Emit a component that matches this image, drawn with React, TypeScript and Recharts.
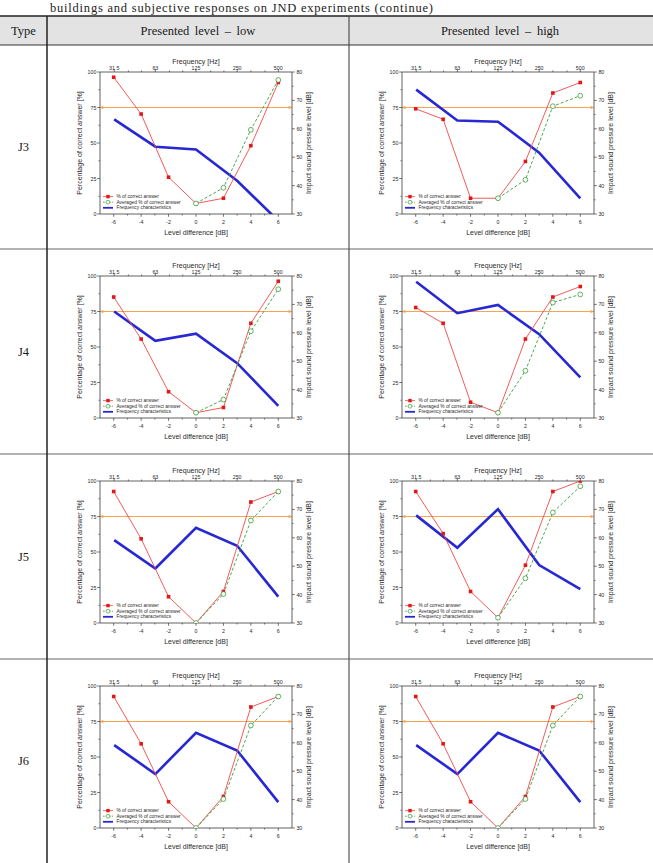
import React from 'react';
import { LineChart, Line, XAxis, YAxis, ReferenceLine, Legend } from 'recharts';

// ---- shared axis values ----
const levelDiffs = [-6, -4, -2, 0, 2, 4, 6];
const octaveBands = [31.5, 63, 125, 250, 500];
const levelTicks = [-6, -5, -4, -3, -2, -1, 0, 1, 2, 3, 4, 5, 6];
const freqTicks = [31.5, 40, 50, 63, 80, 100, 125, 160, 200, 250, 315, 400, 500];
const pctTicks = [0, 12.5, 25, 37.5, 50, 62.5, 75, 87.5, 100];
const pctLabels = [0, 25, 50, 75, 100];
const splTicks = [30, 35, 40, 45, 50, 55, 60, 65, 70, 75, 80];
const splLabels = [30, 40, 50, 60, 70, 80];
const thresholdPct = 75;

// ---- J3 ----
const j3LowCorrect = [96.3, 70.4, 25.9, 7.4, 11.1, 48.1, 92.6];
const j3LowAveraged = [null, null, null, 7.4, 18.5, 59.3, 94.4];
const j3LowSpl = [63.3, 53.7, 52.7, 41.7, 27.6];

const j3HighCorrect = [74.1, 66.7, 11.1, 11.1, 37.0, 85.2, 92.6];
const j3HighAveraged = [null, null, null, 11.1, 24.1, 75.9, 83.3];
const j3HighSpl = [73.8, 62.9, 62.5, 51.6, 35.5];

// ---- J4 ----
const j4LowCorrect = [85.2, 55.6, 18.5, 3.7, 7.4, 66.7, 96.3];
const j4LowAveraged = [null, null, null, 3.7, 13.0, 61.1, 90.7];
const j4LowSpl = [67.5, 57.2, 59.7, 49.3, 34.3];

const j4HighCorrect = [77.8, 66.7, 11.1, 3.7, 55.6, 85.2, 92.6];
const j4HighAveraged = [null, null, null, 3.7, 33.3, 81.3, 87.0];
const j4HighSpl = [78.0, 66.9, 69.8, 59.5, 44.3];

// ---- J5 ----
const j5LowCorrect = [92.6, 59.3, 18.5, 0, 22.2, 85.2, 92.6];
const j5LowAveraged = [null, null, null, 0, 20.4, 72.2, 92.6];
const j5LowSpl = [59.2, 49.2, 63.5, 57.2, 39.3];

const j5HighCorrect = [92.6, 63.0, 22.2, 3.7, 40.7, 92.6, 100];
const j5HighAveraged = [null, null, null, 3.7, 31.5, 77.8, 96.3];
const j5HighSpl = [67.9, 56.5, 70.1, 50.4, 41.9];

// ---- J6 ----
const j6LowCorrect = [92.6, 59.3, 18.5, 0, 22.2, 85.2, 92.6];
const j6LowAveraged = [null, null, null, 0, 20.4, 72.2, 92.6];
const j6LowSpl = [59.2, 49.0, 63.5, 57.3, 39.1];

const j6HighCorrect = [92.6, 59.3, 18.5, 0, 22.2, 85.2, 92.6];
const j6HighAveraged = [null, null, null, 0, 20.4, 72.2, 92.6];
const j6HighSpl = [59.2, 49.0, 63.5, 57.3, 39.1];

const rowLabels = ['J3', 'J4', 'J5', 'J6'];
const columnTitles = ['Presented level \u2013 low', 'Presented level \u2013 high'];

const panels = [
  [
    { correct: j3LowCorrect, averaged: j3LowAveraged, spl: j3LowSpl },
    { correct: j3HighCorrect, averaged: j3HighAveraged, spl: j3HighSpl },
  ],
  [
    { correct: j4LowCorrect, averaged: j4LowAveraged, spl: j4LowSpl },
    { correct: j4HighCorrect, averaged: j4HighAveraged, spl: j4HighSpl },
  ],
  [
    { correct: j5LowCorrect, averaged: j5LowAveraged, spl: j5LowSpl },
    { correct: j5HighCorrect, averaged: j5HighAveraged, spl: j5HighSpl },
  ],
  [
    { correct: j6LowCorrect, averaged: j6LowAveraged, spl: j6LowSpl },
    { correct: j6HighCorrect, averaged: j6HighAveraged, spl: j6HighSpl },
  ],
];

// ---- layout ----
const PAGE_W = 653;
const PAGE_H = 863;
const TABLE_TOP = 16;
const HEADER_BOTTOM = 45;
const TYPE_COL_X = 47;
const MID_COL_X = 349;
const ROW_TOPS = [45, 249, 454, 659];
const ROW_BOTTOM_LAST = 863;

const PLOT_W = 192;
const PLOT_H = 142;
const AX_L = 40;
const AX_R = 40;
const AX_T = 25;
const AX_B = 35;
const CHART_W = AX_L + PLOT_W + AX_R;
const CHART_H = AX_T + PLOT_H + AX_B;
const PLOT_LEFTS = [100, 402];
const PLOT_TOP_IN_ROW = 27;

const FREQ_LO = 125 / Math.pow(2, 7 / 3);
const FREQ_HI = 125 * Math.pow(2, 7 / 3);

const SANS = '"Liberation Sans", Arial, sans-serif';
const SERIF = '"Liberation Serif", "Times New Roman", serif';
const AXIS_COLOR = '#3a3a3a';
const TEXT_COLOR = '#2a2a2a';
const TICK_FONT = 5.3;
const TITLE_FONT = 7;

const RED_LINE = '#f04848';
const RED_MARK = '#e01818';
const GREEN = '#3a9e3a';
const BLUE = '#2727d4';
const ORANGE = '#f7a451';

const seriesNames = {
  correct: '% of correct answer',
  averaged: 'Averaged % of correct answer',
  spl: 'Frequency characteristics',
};

type Side = 'top' | 'bottom' | 'left' | 'right';

function makeTick(side: Side, labelled: number[]) {
  return (props: any) => {
    const { x, y, payload } = props;
    const v = payload.value;
    const major = labelled.includes(v);
    const len = major ? 2.8 : 1.5;
    let x2 = x;
    let y2 = y;
    let tx = x;
    let ty = y;
    let anchor = 'middle';
    if (side === 'bottom') {
      y2 = y + len;
      ty = y + 8;
    } else if (side === 'top') {
      y2 = y - len;
      ty = y - 4.5;
    } else if (side === 'left') {
      x2 = x - len;
      tx = x - 3.6;
      anchor = 'end';
    } else {
      x2 = x + len;
      tx = x + 4.4;
      anchor = 'start';
    }
    return (
      <g>
        <line x1={x} y1={y} x2={x2} y2={y2} stroke={AXIS_COLOR} strokeWidth={0.7} />
        {major && (
          <text
            x={tx}
            y={ty}
            textAnchor={anchor}
            dominantBaseline="central"
            fontSize={TICK_FONT}
            fontFamily={SANS}
            fill={TEXT_COLOR}
          >
            {String(v)}
          </text>
        )}
      </g>
    );
  };
}

const AxisTitle = (props: any) => {
  const { viewBox, side, text } = props;
  const vb = viewBox || { x: 0, y: 0, width: 0, height: 0 };
  let x = vb.x + vb.width / 2;
  let y = vb.y + vb.height / 2;
  let rotate = 0;
  if (side === 'bottom') {
    y = vb.y + 18;
  } else if (side === 'top') {
    y = vb.y + vb.height - 10.5;
  } else if (side === 'left') {
    x = vb.x + vb.width - 21;
    rotate = -90;
  } else {
    x = vb.x + 16;
    rotate = -90;
  }
  return (
    <text
      x={x}
      y={y}
      textAnchor="middle"
      dominantBaseline="central"
      fontSize={TITLE_FONT}
      fontFamily={SANS}
      fill={TEXT_COLOR}
      transform={rotate ? `rotate(${rotate} ${x} ${y})` : undefined}
    >
      {text}
    </text>
  );
};

const SquareDot = (props: any) => {
  const { cx, cy, index } = props;
  if (typeof cx !== 'number' || typeof cy !== 'number') return <g key={`sq-${index}`} />;
  return <rect key={`sq-${index}`} x={cx - 1.8} y={cy - 1.8} width={3.6} height={3.6} fill={RED_MARK} />;
};

const ThresholdLine = (props: any) => {
  const { x1, y1, x2, y2 } = props;
  if ([x1, y1, x2, y2].some((n) => typeof n !== 'number')) return <g />;
  return (
    <g>
      <line x1={x1} y1={y1} x2={x2} y2={y2} stroke={ORANGE} strokeWidth={1} />
      <path d={`M${x1 + 3.4},${y1 - 1.7} L${x1},${y1} L${x1 + 3.4},${y1 + 1.7} Z`} fill={ORANGE} />
      <path d={`M${x2 - 3.4},${y2 - 1.7} L${x2},${y2} L${x2 - 3.4},${y2 + 1.7} Z`} fill={ORANGE} />
    </g>
  );
};

const legendOrder = [seriesNames.correct, seriesNames.averaged, seriesNames.spl];

const PanelLegend = (props: any) => {
  const payload: any[] = props.payload || [];
  const present = legendOrder.filter((n) => payload.length === 0 || payload.some((p) => p.value === n));
  return (
    <svg width={82} height={20} style={{ display: 'block', overflow: 'visible' }}>
      {present.map((name, i) => {
        const cy = 3.6 + i * 5.6;
        let symbol;
        if (name === seriesNames.correct) {
          symbol = (
            <g>
              <line x1={1} y1={cy} x2={11} y2={cy} stroke={RED_LINE} strokeWidth={0.8} />
              <rect x={4.3} y={cy - 1.7} width={3.4} height={3.4} fill={RED_MARK} />
            </g>
          );
        } else if (name === seriesNames.averaged) {
          symbol = (
            <g>
              <line x1={1} y1={cy} x2={11} y2={cy} stroke={GREEN} strokeWidth={0.8} strokeDasharray="1.8 1.2" />
              <circle cx={6} cy={cy} r={1.9} fill="#fff" stroke={GREEN} strokeWidth={0.7} />
            </g>
          );
        } else {
          symbol = <line x1={1} y1={cy} x2={11} y2={cy} stroke={BLUE} strokeWidth={1.8} />;
        }
        return (
          <g key={name}>
            {symbol}
            <text x={14.5} y={cy} dominantBaseline="central" fontSize={4.8} fontFamily={SANS} fill={TEXT_COLOR}>
              {name}
            </text>
          </g>
        );
      })}
    </svg>
  );
};

type PanelProps = {
  correct: number[];
  averaged: (number | null)[];
  spl: number[];
};

function JndPanel({ correct, averaged, spl }: PanelProps) {
  const responseData = levelDiffs.map((lv, i) => ({
    level: lv,
    correct: correct[i],
    averaged: averaged[i],
  }));
  const spectrumData = octaveBands.map((f, i) => ({ freq: f, spl: spl[i] }));
  const axisLine = { stroke: AXIS_COLOR, strokeWidth: 0.8 };

  return (
    <LineChart width={CHART_W} height={CHART_H} margin={{ top: 0, right: 0, bottom: 0, left: 0 }}>
      <XAxis
        xAxisId="lvl"
        dataKey="level"
        type="number"
        orientation="bottom"
        domain={[-7, 7]}
        allowDataOverflow
        ticks={levelTicks}
        interval={0}
        height={AX_B}
        tickSize={0}
        tickMargin={0}
        tickLine={false}
        axisLine={axisLine}
        tick={makeTick('bottom', levelDiffs)}
        label={<AxisTitle side="bottom" text="Level difference [dB]" />}
      />
      <XAxis
        xAxisId="freq"
        dataKey="freq"
        type="number"
        scale="log"
        orientation="top"
        domain={[FREQ_LO, FREQ_HI]}
        allowDataOverflow
        ticks={freqTicks}
        interval={0}
        height={AX_T}
        tickSize={0}
        tickMargin={0}
        tickLine={false}
        axisLine={axisLine}
        tick={makeTick('top', octaveBands)}
        label={<AxisTitle side="top" text="Frequency [Hz]" />}
      />
      <YAxis
        yAxisId="pct"
        orientation="left"
        type="number"
        domain={[0, 100]}
        allowDataOverflow
        ticks={pctTicks}
        interval={0}
        width={AX_L}
        tickSize={0}
        tickMargin={0}
        tickLine={false}
        axisLine={axisLine}
        tick={makeTick('left', pctLabels)}
        label={<AxisTitle side="left" text="Percentage of correct answer [%]" />}
      />
      <YAxis
        yAxisId="spl"
        orientation="right"
        type="number"
        domain={[30, 80]}
        allowDataOverflow
        ticks={splTicks}
        interval={0}
        width={AX_R}
        tickSize={0}
        tickMargin={0}
        tickLine={false}
        axisLine={axisLine}
        tick={makeTick('right', splLabels)}
        label={<AxisTitle side="right" text="Impact sound pressure level [dB]" />}
      />
      <ReferenceLine xAxisId="lvl" yAxisId="pct" y={thresholdPct} stroke={ORANGE} shape={ThresholdLine} />
      <Line
        data={spectrumData}
        xAxisId="freq"
        yAxisId="spl"
        dataKey="spl"
        name={seriesNames.spl}
        stroke={BLUE}
        strokeWidth={2.6}
        dot={false}
        activeDot={false}
        isAnimationActive={false}
      />
      <Line
        data={responseData}
        xAxisId="lvl"
        yAxisId="pct"
        dataKey="correct"
        name={seriesNames.correct}
        stroke={RED_LINE}
        strokeWidth={0.9}
        dot={SquareDot}
        activeDot={false}
        isAnimationActive={false}
      />
      <Line
        data={responseData}
        xAxisId="lvl"
        yAxisId="pct"
        dataKey="averaged"
        name={seriesNames.averaged}
        stroke={GREEN}
        strokeWidth={0.9}
        strokeDasharray="3 2"
        dot={{ r: 2.4, fill: '#fff', stroke: GREEN, strokeWidth: 0.8, strokeDasharray: 'none' }}
        activeDot={false}
        isAnimationActive={false}
      />
      <Legend
        layout="vertical"
        align="center"
        verticalAlign="middle"
        content={<PanelLegend />}
        wrapperStyle={{
          left: AX_L + 2,
          top: AX_T + PLOT_H - 21,
          right: 'auto',
          bottom: 'auto',
          width: 82,
          height: 20,
        }}
      />
    </LineChart>
  );
}

function TableFrame() {
  const rowCenters = ROW_TOPS.map((t, i) => (t + (i + 1 < ROW_TOPS.length ? ROW_TOPS[i + 1] : ROW_BOTTOM_LAST)) / 2);
  return (
    <svg width={PAGE_W} height={PAGE_H} style={{ position: 'absolute', left: 0, top: 0 }}>
      <text
        x={50}
        y={12}
        fontSize={12.5}
        fontFamily={SERIF}
        fill="#222"
        textLength={383}
        lengthAdjust="spacing"
      >
        buildings and subjective responses on JND experiments (continue)
      </text>
      <rect x={0} y={TABLE_TOP} width={PAGE_W} height={HEADER_BOTTOM - TABLE_TOP} fill="#e3e3e3" />
      <line x1={0} y1={TABLE_TOP} x2={PAGE_W} y2={TABLE_TOP} stroke="#222" strokeWidth={1.6} />
      <line x1={0} y1={HEADER_BOTTOM} x2={PAGE_W} y2={HEADER_BOTTOM} stroke="#333" strokeWidth={1.1} />
      {ROW_TOPS.slice(1).map((y) => (
        <line key={y} x1={0} y1={y} x2={PAGE_W} y2={y} stroke="#666" strokeWidth={1.1} />
      ))}
      <line x1={TYPE_COL_X} y1={TABLE_TOP} x2={TYPE_COL_X} y2={PAGE_H} stroke="#222" strokeWidth={1.5} />
      <line x1={MID_COL_X} y1={TABLE_TOP} x2={MID_COL_X} y2={PAGE_H} stroke="#444" strokeWidth={1.1} />
      <text
        x={TYPE_COL_X / 2}
        y={(TABLE_TOP + HEADER_BOTTOM) / 2}
        textAnchor="middle"
        dominantBaseline="central"
        fontSize={12.5}
        fontFamily={SERIF}
        fill="#1a1a1a"
      >
        Type
      </text>
      {columnTitles.map((t, i) => (
        <text
          key={t}
          x={i === 0 ? (TYPE_COL_X + MID_COL_X) / 2 : MID_COL_X + (MID_COL_X - TYPE_COL_X) / 2}
          y={(TABLE_TOP + HEADER_BOTTOM) / 2}
          textAnchor="middle"
          dominantBaseline="central"
          fontSize={12.5}
          fontFamily={SERIF}
          fill="#1a1a1a"
          wordSpacing={2.5}
        >
          {t}
        </text>
      ))}
      {rowLabels.map((lab, i) => (
        <text
          key={lab}
          x={TYPE_COL_X / 2}
          y={rowCenters[i]}
          textAnchor="middle"
          dominantBaseline="central"
          fontSize={12.5}
          fontFamily={SERIF}
          fill="#1a1a1a"
        >
          {lab}
        </text>
      ))}
    </svg>
  );
}

export default function App() {
  return (
    <div
      style={{
        position: 'absolute',
        left: 0,
        top: 0,
        width: PAGE_W,
        height: PAGE_H,
        overflow: 'hidden',
        background: '#fff',
      }}
    >
      <TableFrame />
      {panels.map((row, r) =>
        row.map((p, c) => (
          <div
            key={`${r}-${c}`}
            style={{
              position: 'absolute',
              left: PLOT_LEFTS[c] - AX_L,
              top: ROW_TOPS[r] + PLOT_TOP_IN_ROW - AX_T,
            }}
          >
            <JndPanel correct={p.correct} averaged={p.averaged} spl={p.spl} />
          </div>
        ))
      )}
    </div>
  );
}
